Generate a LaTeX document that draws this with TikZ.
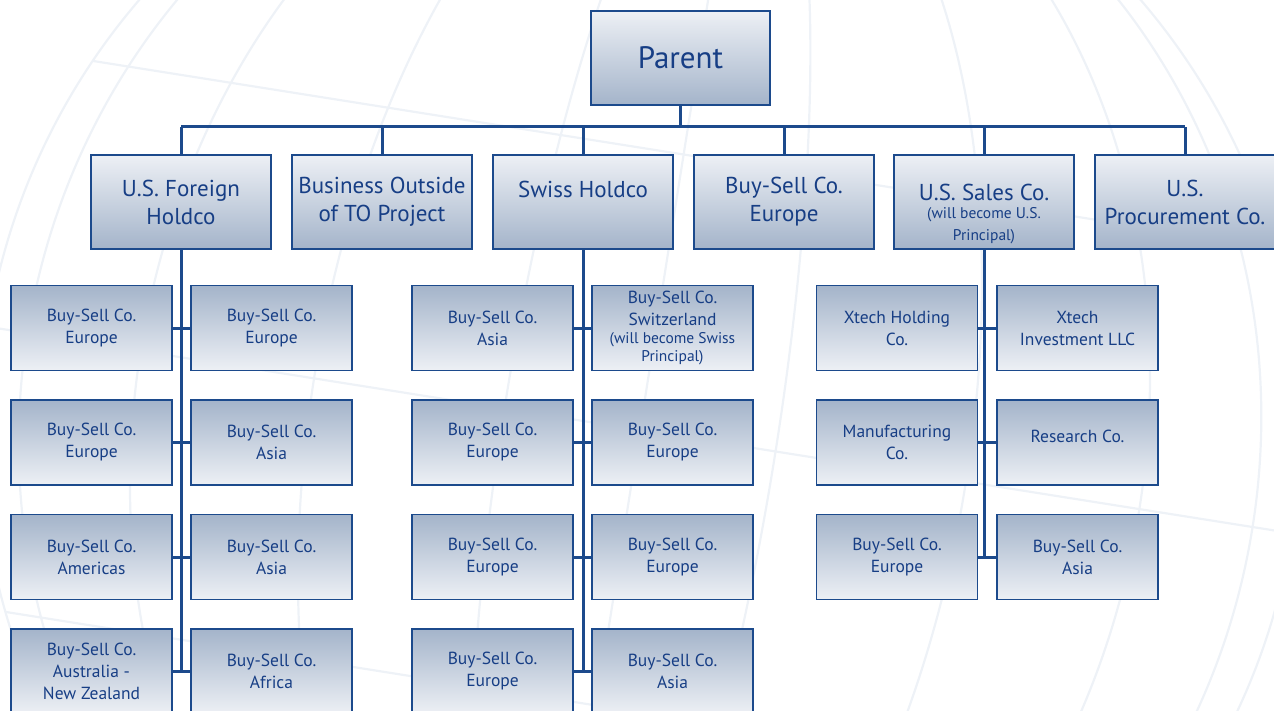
\documentclass[tikz,border=0pt]{standalone}
\usepackage{fontspec}
\setmainfont{PT Sans}
\definecolor{navy}{HTML}{1C4A8C}
\definecolor{ink}{HTML}{173E85}
\definecolor{pale}{HTML}{EDF0F5}
\definecolor{dusk}{HTML}{A4B4CA}
\definecolor{globe}{HTML}{EEF2F7}
\tikzset{
  topbox/.style={draw=navy,line width=1.3pt,top color=pale,bottom color=dusk,
    minimum width=180pt,minimum height=94pt,inner sep=1pt,align=center,
    text=ink,font=\fontsize{23}{28}\selectfont},
  subbox/.style={draw=navy,line width=1.3pt,top color=dusk,bottom color=pale,
    minimum width=161pt,minimum height=85pt,inner sep=1pt,align=center,
    text=ink,font=\fontsize{17.5}{22}\selectfont},
  link/.style={draw=navy,line width=3pt},
}
\newcommand{\note}[1]{{\fontsize{15.5}{18}\selectfont #1}}
\begin{document}
\begin{tikzpicture}[x=1pt,y=-1pt]
        \useasboundingbox (0,0) rectangle (1274,711);
        \clip (0,0) rectangle (1274,711);
        % faint globe behind the chart
        \begin{scope}[draw=globe,line width=2.2pt,rotate around={-9:(640,430)}]
            \draw (640,430) circle (660);
            \foreach \a in {20,40,60,78}
                \draw (640,430) ellipse ({660*cos(\a)} and 660);
            \draw (640,-230) -- (640,1090);
            \foreach \b in {-50,-25,0,25,50}
                \draw ({640-660*cos(\b)},{430+660*sin(\b)}) -- ({640+660*cos(\b)},{430+660*sin(\b)});
        \end{scope}
        % parent and first level
        \node[topbox,minimum width=179pt,font=\fontsize{31}{36}\selectfont] (par) at (680.5,58) {Parent};
        \node[topbox] (fh) at (181,202) {U.S. Foreign\\Holdco};
        \node[topbox] (bo) at (382,202) {Business Outside\\of TO Project};
        \node[topbox] (sh) at (583,202) {Swiss Holdco\\[-2pt]\mbox{}};
        \node[topbox] (be) at (784,202) {Buy-Sell Co.\\Europe};
        \node[topbox] (ss) at (984,202) {\mbox{}\\[13pt]U.S. Sales Co.\\[-10pt]\note{(will become U.S.}\\[-6pt]\note{Principal)}};
        \node[topbox] (pc) at (1185,202) {U.S.\\Procurement Co.};
        % under U.S. Foreign Holdco
        \node[subbox] (f1l) at (91.5,328) {Buy-Sell Co.\\Europe};
        \node[subbox] (f1r) at (271.5,328) {Buy-Sell Co.\\Europe};
        \node[subbox] (f2l) at (91.5,442.5) {Buy-Sell Co.\\Europe};
        \node[subbox] (f2r) at (271.5,442.5) {Buy-Sell Co.\\Asia};
        \node[subbox] (f3l) at (91.5,557) {Buy-Sell Co.\\Americas};
        \node[subbox] (f3r) at (271.5,557) {Buy-Sell Co.\\Asia};
        \node[subbox] (f4l) at (91.5,671.5) {Buy-Sell Co.\\Australia -\\New Zealand};
        \node[subbox] (f4r) at (271.5,671.5) {Buy-Sell Co.\\Africa};
        % under Swiss Holdco
        \node[subbox] (s1l) at (492.5,328) {Buy-Sell Co.\\Asia};
        \node[subbox] (s1r) at (672.5,328) {Buy-Sell Co.\\[0pt]Switzerland\\[-4pt]\note{(will become Swiss}\\[-4pt]\note{Principal)}};
        \node[subbox] (s2l) at (492.5,442.5) {Buy-Sell Co.\\Europe};
        \node[subbox] (s2r) at (672.5,442.5) {Buy-Sell Co.\\Europe};
        \node[subbox] (s3l) at (492.5,557) {Buy-Sell Co.\\Europe};
        \node[subbox] (s3r) at (672.5,557) {Buy-Sell Co.\\Europe};
        \node[subbox] (s4l) at (492.5,671.5) {Buy-Sell Co.\\Europe};
        \node[subbox] (s4r) at (672.5,671.5) {Buy-Sell Co.\\Asia};
        % under U.S. Sales Co.
        \node[subbox] (u1l) at (897,328) {Xtech Holding\\Co.};
        \node[subbox] (u1r) at (1077.5,328) {Xtech\\Investment LLC};
        \node[subbox] (u2l) at (897,442.5) {Manufacturing\\Co.};
        \node[subbox] (u2r) at (1077.5,442.5) {Research Co.\\[-10pt]\mbox{}};
        \node[subbox] (u3l) at (897,557) {Buy-Sell Co.\\Europe};
        \node[subbox] (u3r) at (1077.5,557) {Buy-Sell Co.\\Asia};
        % connectors
        \coordinate (busl) at (181,127);
        \coordinate (busr) at (1185,127);
        \draw[link] (busl) -- (busr);
        \draw[link] (par.south) -- (par.south |- busl);
        \foreach \n in {fh,bo,sh,be,ss,pc}
            \draw[link] (\n.north) -- (\n.north |- busl);
        \foreach \n in {1,2,3,4}{
            \draw[link] (f\n l.east) -- (f\n r.west);
            \draw[link] (s\n l.east) -- (s\n r.west);
        }
        \foreach \n in {1,2,3}
            \draw[link] (u\n l.east) -- (u\n r.west);
        \draw[link] (fh.south) -- (fh.south |- f4l.east);
        \draw[link] (sh.south) -- (sh.south |- s4l.east);
        \draw[link] (ss.south) -- (ss.south |- u3l.east);
\end{tikzpicture}
\end{document}
